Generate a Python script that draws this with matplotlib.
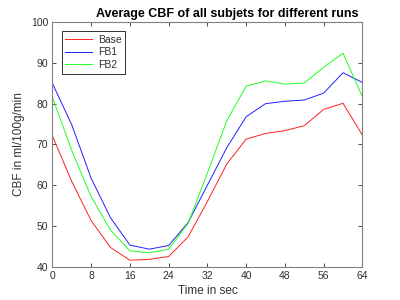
import numpy as np
import matplotlib
matplotlib.use('Agg')
import matplotlib.pyplot as plt

# time points (sec) and average CBF per run
time_sec = [0, 4, 8, 12, 16, 20, 24, 28, 32, 36, 40, 44, 48, 52, 56, 60, 64]
base = [72.1, 60.9, 51.3, 44.7, 41.6, 41.8, 42.5, 47.3, 56.0, 65.2, 71.3, 72.7, 73.4, 74.6, 78.6, 80.1, 72.3]
fb1 = [85.0, 74.8, 61.7, 52.0, 45.3, 44.3, 45.2, 50.8, 60.0, 69.2, 76.8, 80.0, 80.6, 80.9, 82.6, 87.6, 85.2]
fb2 = [81.6, 68.5, 57.2, 49.0, 43.9, 43.4, 44.3, 50.6, 63.0, 75.8, 84.3, 85.6, 84.8, 85.1, 88.9, 92.4, 81.7]

plt.rcParams['font.family'] = ['Liberation Sans', 'DejaVu Sans']
grey = '#303030'

fig = plt.figure(figsize=(4, 3), dpi=100)
ax = fig.add_axes([0.131, 0.111, 0.775, 0.815])

ax.plot(time_sec, base, color='#ff2020', lw=0.7, label='Base')
ax.plot(time_sec, fb1, color='#2020ff', lw=0.7, label='FB1')
ax.plot(time_sec, fb2, color='#20ff20', lw=0.7, label='FB2')

ax.set_xlim(0, 64)
ax.set_ylim(40, 100)
ax.set_xticks(np.arange(0, 65, 8))
ax.set_yticks(np.arange(40, 101, 10))
ax.tick_params(direction='in', length=3, width=0.6, labelsize=7.5,
               colors=grey, top=True, right=True, pad=3)
for s in ax.spines.values():
    s.set_color('#808080')
    s.set_linewidth(0.8)

ax.set_xlabel('Time in sec', fontsize=8.5, color=grey, labelpad=3)
ax.set_ylabel('CBF in ml/100g/min', fontsize=8.5, color=grey, labelpad=4)
ax.set_title('Average CBF of all subjets for different runs', fontsize=9,
             fontweight='bold', x=0.563, pad=4)

leg = ax.legend(loc='upper left', bbox_to_anchor=(0.03, 0.963), fontsize=7.5,
                fancybox=False, framealpha=1, edgecolor=grey,
                handlelength=2.6, handletextpad=0.5, borderpad=0.35,
                labelspacing=0.25, borderaxespad=0)
leg.get_frame().set_linewidth(0.7)
for t in leg.get_texts():
    t.set_color(grey)

fig.savefig('out.png', dpi=100)
